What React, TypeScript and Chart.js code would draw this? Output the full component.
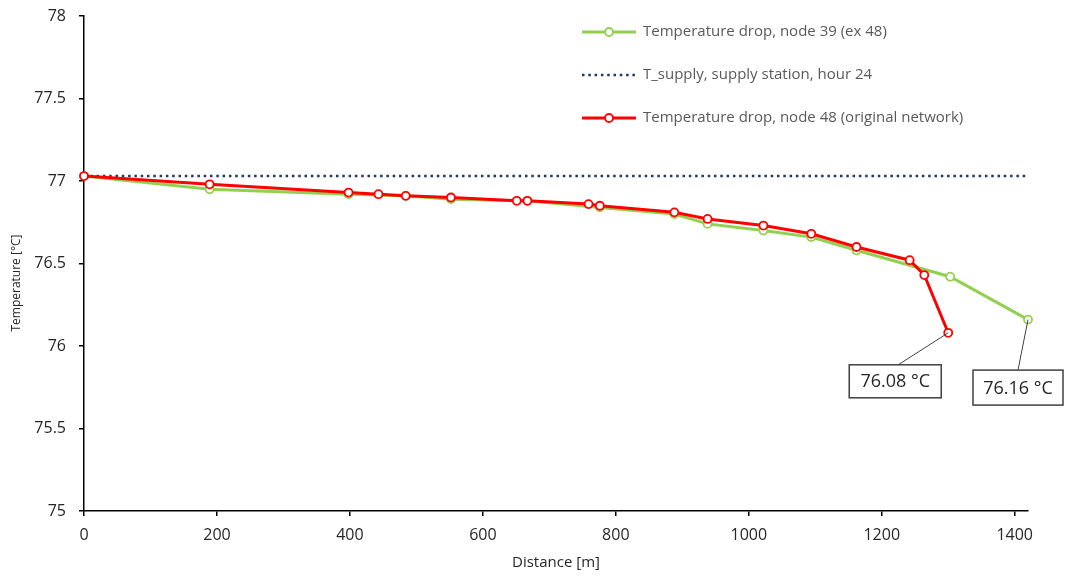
import React, { useEffect, useRef } from "react";
import { Chart, registerables } from "chart.js";

Chart.register(...registerables);

// Distance [m] and temperature [°C]
const redDistance = [0, 189, 398, 443, 484, 552, 651, 667, 759, 776, 888, 938, 1022, 1094, 1162, 1242, 1264, 1300];
const redTemp = [77.03, 76.98, 76.93, 76.92, 76.91, 76.9, 76.88, 76.88, 76.86, 76.85, 76.81, 76.77, 76.73, 76.68, 76.6, 76.52, 76.43, 76.08];

const greenDistance = [0, 189, 398, 484, 552, 667, 776, 888, 938, 1022, 1094, 1162, 1303, 1420];
const greenTemp = [77.03, 76.95, 76.92, 76.91, 76.89, 76.88, 76.84, 76.8, 76.74, 76.7, 76.66, 76.58, 76.42, 76.16];

const supplyDistance = [0, 1420];
const supplyTemp = [77.03, 77.03];

const xTicks = [0, 200, 400, 600, 800, 1000, 1200, 1400];
const yTicks = [75, 75.5, 76, 76.5, 77, 77.5, 78];

const seriesLabels = [
  "Temperature drop, node 39 (ex 48)",
  "T_supply, supply station, hour 24",
  "Temperature drop, node 48 (original network)",
];

const xTitle = "Distance [m]";
const yTitle = "Temperature [°C]";

const GREEN = "#92D050";
const RED = "#FF0000";
const NAVY = "#1F3864";
const FONT = "'Open Sans', 'DejaVu Sans', sans-serif";

const toPts = (xs: number[], ys: number[]) => xs.map((x, i) => ({ x, y: ys[i] }));

const legendPlugin = {
  id: "customLegend",
  afterDraw(chart: any) {
    const ctx = chart.ctx;
    const rows = [
      { label: seriesLabels[0], color: GREEN, dotted: false, marker: true },
      { label: seriesLabels[1], color: NAVY, dotted: true, marker: false },
      { label: seriesLabels[2], color: RED, dotted: false, marker: true },
    ];
    const x0 = 582, x1 = 636, tx = 643;
    const ys = [32, 75, 118];
    ctx.save();
    rows.forEach((r, i) => {
      const y = ys[i];
      ctx.beginPath();
      ctx.strokeStyle = r.color;
      ctx.lineWidth = r.dotted ? 2.5 : 3;
      ctx.setLineDash(r.dotted ? [2.5, 3.8] : []);
      ctx.moveTo(x0, y);
      ctx.lineTo(x1, y);
      ctx.stroke();
      ctx.setLineDash([]);
      if (r.marker) {
        ctx.beginPath();
        ctx.arc((x0 + x1) / 2, y, 4, 0, Math.PI * 2);
        ctx.fillStyle = "#fff";
        ctx.fill();
        ctx.lineWidth = 1.8;
        ctx.strokeStyle = r.color;
        ctx.stroke();
      }
      ctx.fillStyle = "#595959";
      ctx.font = `15px ${FONT}`;
      ctx.textBaseline = "middle";
      ctx.textAlign = "left";
      ctx.fillText(r.label, tx, y);
    });
    // y axis title
    ctx.save();
    ctx.translate(17, 283);
    ctx.rotate(-Math.PI / 2);
    ctx.fillStyle = "#262626";
    ctx.font = `12px ${FONT}`;
    ctx.textAlign = "center";
    ctx.textBaseline = "middle";
    ctx.fillText(yTitle, 0, 0);
    ctx.restore();
    ctx.restore();
  },
};

const calloutPlugin = {
  id: "callouts",
  afterDraw(chart: any) {
    const ctx = chart.ctx;
    const items = [
      { ds: 0, value: redTemp[redTemp.length - 1], dx: -53, dy: 48.5, w: 92, h: 33, lx: 3 },
      { ds: 2, value: greenTemp[greenTemp.length - 1], dx: -10, dy: 68, w: 90, h: 35, lx: 0 },
    ];
    ctx.save();
    items.forEach((it) => {
      const meta = chart.getDatasetMeta(it.ds);
      const pt = meta.data[meta.data.length - 1];
      const cx = pt.x + it.dx;
      const cy = pt.y + it.dy;
      const left = cx - it.w / 2;
      const top = cy - it.h / 2;
      ctx.beginPath();
      ctx.strokeStyle = "#404040";
      ctx.lineWidth = 1;
      ctx.moveTo(cx + it.lx, top);
      ctx.lineTo(pt.x, pt.y);
      ctx.stroke();
      ctx.fillStyle = "#fff";
      ctx.fillRect(left, top, it.w, it.h);
      ctx.lineWidth = 1.5;
      ctx.strokeStyle = "#404040";
      ctx.strokeRect(left, top, it.w, it.h);
      ctx.fillStyle = "#262626";
      ctx.font = `18px ${FONT}`;
      ctx.textAlign = "center";
      ctx.textBaseline = "middle";
      ctx.fillText(`${it.value.toFixed(2)} °C`, cx, cy + 1);
    });
    ctx.restore();
  },
};

export default function App() {
  const ref = useRef<HTMLCanvasElement | null>(null);
  useEffect(() => {
    if (!ref.current) return;
    const chart = new Chart(ref.current, {
      type: "line",
      data: {
        datasets: [
          {
            label: seriesLabels[2],
            data: toPts(redDistance, redTemp),
            borderColor: RED,
            borderWidth: 3,
            pointRadius: 4,
            pointBorderWidth: 1.8,
            pointBackgroundColor: "#fff",
            pointBorderColor: RED,
            order: 0,
            clip: false,
          },
          {
            label: seriesLabels[1],
            data: toPts(supplyDistance, supplyTemp),
            borderColor: NAVY,
            borderWidth: 2.5,
            borderDash: [2.5, 3.8],
            pointRadius: 0,
            order: 1,
            clip: false,
          },
          {
            label: seriesLabels[0],
            data: toPts(greenDistance, greenTemp),
            borderColor: GREEN,
            borderWidth: 3,
            pointRadius: 4,
            pointBorderWidth: 1.8,
            pointBackgroundColor: "#fff",
            pointBorderColor: GREEN,
            order: 2,
            clip: false,
          },
        ],
      },
      options: {
        animation: false,
        responsive: false,
        maintainAspectRatio: false,
        layout: { padding: { left: 0, top: 16, right: 37, bottom: 0 } },
        plugins: { legend: { display: false }, tooltip: { enabled: false } },
        scales: {
          x: {
            type: "linear",
            min: 0,
            max: 1420,
            afterFit: (s: any) => {
              s.height = 65;
              s.paddingLeft = 0;
              s.paddingRight = 0;
            },
            afterBuildTicks: (s: any) => { s.ticks = xTicks.map((v) => ({ value: v })); },
            ticks: {
              autoSkip: false,
              color: "#262626",
              font: { family: FONT, size: 16 },
              padding: 10,
              maxRotation: 0,
              callback: (v: any) => String(v),
            },
            grid: { display: true, drawOnChartArea: false, drawTicks: true, tickLength: 5, color: "#000", lineWidth: 1.5 },
            border: { display: true, color: "#000", width: 1.5 },
            title: {
              display: true,
              text: xTitle,
              color: "#262626",
              font: { family: FONT, size: 15 },
              padding: { top: 0, bottom: 4 },
            },
          },
          y: {
            type: "linear",
            min: 75,
            max: 78,
            afterFit: (s: any) => {
              s.width = 84;
              s.paddingTop = 0;
              s.paddingBottom = 0;
            },
            afterBuildTicks: (s: any) => { s.ticks = yTicks.map((v) => ({ value: v })); },
            ticks: {
              autoSkip: false,
              color: "#262626",
              font: { family: FONT, size: 16 },
              padding: 13,
              callback: (v: any) => String(v),
            },
            grid: { display: true, drawOnChartArea: false, drawTicks: true, tickLength: 5, color: "#000", lineWidth: 1.5 },
            border: { display: true, color: "#000", width: 1.5 },
            title: { display: false },
          },
        },
      },
      plugins: [legendPlugin, calloutPlugin],
    });
    return () => chart.destroy();
  }, []);
  return (
    <div style={{ position: "fixed", left: 0, top: 0, width: 1065, height: 576, background: "#fff" }}>
      <canvas ref={ref} width={1065} height={576} style={{ width: 1065, height: 576 }} />
    </div>
  );
}
